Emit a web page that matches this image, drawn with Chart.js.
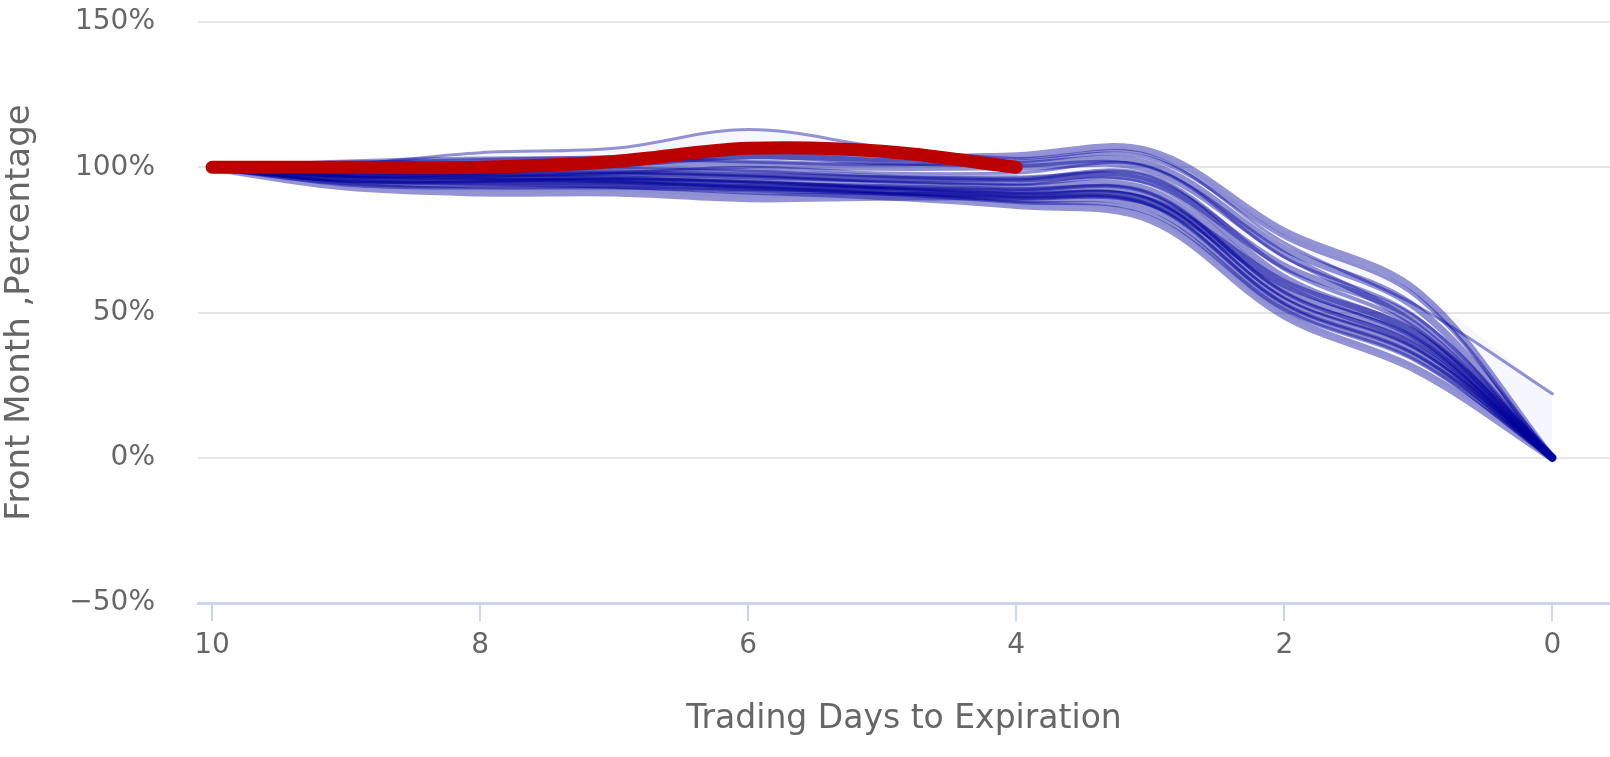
<!DOCTYPE html>
<html>
<head>
<meta charset="utf-8">
<script src="https://cdn.jsdelivr.net/npm/chart.js@4.4.1/dist/chart.umd.min.js"></script>
<style>
  html, body { margin: 0; padding: 0; background: #fff; overflow: hidden; }
  #wrap { width: 1610px; height: 757px; }
  canvas { display: block; }
</style>
</head>
<body>
<div id="wrap"><canvas id="chart" width="1610" height="757"></canvas></div>
<script>
// trading days to expiration (x) and tick labels
const days = [10, 9, 8, 7, 6, 5, 4, 3, 2, 1, 0];
const xTicks = [10, 8, 6, 4, 2, 0];
const yTicks = [-50, 0, 50, 100, 150];

// current front month (only up to day 4)
const current = [100, 100, 100, 102, 106.5, 105.5, 100];

// past expirations, % of start value
const history = [
    [100, 101, 105, 106.5, 113, 107, 103, 104, 74, 52, 22],
    [100, 101, 102, 103, 104, 103, 104, 105.5, 78, 57, 0],
    [100, 102, 103, 103, 102, 101, 102, 103, 76, 55, 0],
    [100, 99, 100, 101, 104, 102, 101, 101, 72, 51, 0],
    [100, 98, 97, 98, 100, 98, 98, 100, 69, 48, 0],
    [100, 101, 101, 102, 101, 100, 100, 99, 70, 45, 0],
    [100, 97, 98, 100, 99, 97, 96, 97, 65, 44, 0],
    [100, 99, 99, 99, 98, 96, 95, 96, 62, 42, 0],
    [100, 98, 98, 98, 97, 95, 94, 94, 60, 40, 0],
    [100, 96, 96, 97, 96, 94, 93, 92, 58, 40, 0],
    [100, 97, 97, 96, 95, 93, 92, 91, 57, 38, 0],
    [100, 98, 97, 96, 94, 93, 92, 90, 56, 38, 0],
    [100, 95, 95, 96, 95, 93, 91, 89, 55, 37, 0],
    [100, 96, 95, 95, 94, 92, 90, 88, 54, 36, 0],
    [100, 94, 93, 93, 92, 91, 90, 87, 53, 35, 0],
    [100, 95, 94, 94, 93, 92, 89, 86, 52, 34, 0],
    [100, 93.5, 91.5, 91.5, 89.5, 90, 90, 88, 60, 42, 0],
    [100, 97, 96, 95, 93, 91, 88, 84, 51, 33, 0],
    [100, 96, 95, 94, 92, 90, 87, 82, 49, 30, 0],
    [100, 99, 98, 98, 97, 96, 96, 95, 66, 47, 0]
];
const widths = [3, 7, 4, 7, 3, 7, 4, 7, 3, 7, 4, 7, 3, 7, 4, 7, 9, 4, 8, 7];

const toPoints = vals => vals.map((v, i) => ({ x: days[i], y: v }));
const upper = days.map((d, i) => Math.max(...history.map(s => s[i])));
const lower = days.map((d, i) => Math.min(...history.map(s => s[i])));

const datasets = [];
datasets.push({
    data: toPoints(upper), borderWidth: 0, pointRadius: 0, fill: false,
    tension: 0.35, order: 3
});
datasets.push({
    data: toPoints(lower), borderWidth: 0, pointRadius: 0, fill: '-1',
    backgroundColor: 'rgba(70, 70, 230, 0.05)', tension: 0.35, order: 3
});
history.forEach((s, i) => {
    datasets.push({
        data: toPoints(s),
        borderColor: 'rgba(0, 0, 156, 0.42)',
        borderWidth: widths[i],
        borderCapStyle: 'round',
        pointRadius: 0,
        tension: 0.35,
        fill: false,
        order: 2
    });
});
datasets.push({
    data: toPoints(current),
    borderColor: '#bb0000',
    borderWidth: 13,
    borderCapStyle: 'round',
    pointRadius: 0,
    tension: 0.35,
    fill: false,
    order: 1
});

new Chart(document.getElementById('chart'), {
    type: 'line',
    data: { datasets: datasets },
    options: {
        responsive: false,
        animation: false,
        layout: { padding: { top: 22, right: 0, left: 0, bottom: 0 } },
        plugins: { legend: { display: false }, tooltip: { enabled: false } },
        scales: {
            x: {
                type: 'linear',
                reverse: true,
                min: -0.43,
                max: 10.105,
                afterBuildTicks: axis => { axis.ticks = xTicks.map(v => ({ value: v })); },
                afterFit: axis => { axis.height = 154; },
                grid: {
                    drawOnChartArea: false, drawTicks: true, tickLength: 18,
                    color: '#ccd6eb', lineWidth: 2
                },
                border: { color: '#ccd6eb', width: 3 },
                ticks: {
                    color: '#666666', padding: 8,
                    font: { family: 'DejaVu Sans', size: 28 }
                },
                title: {
                    display: true, text: 'Trading Days to Expiration', color: '#666666',
                    font: { family: 'DejaVu Sans', size: 33 },
                    padding: { top: 20, bottom: 18 }
                }
            },
            y: {
                min: -50,
                max: 150,
                afterBuildTicks: axis => { axis.ticks = yTicks.map(v => ({ value: v })); },
                afterFit: axis => { axis.width = 198; },
                grid: {
                    color: '#e6e6e6', lineWidth: 2,
                    drawTicks: true, tickLength: 40, tickColor: 'rgba(0,0,0,0)'
                },
                border: { display: false },
                ticks: {
                    color: '#666666', padding: 3,
                    font: { family: 'DejaVu Sans', size: 28 },
                    callback: v => (v < 0 ? '\u2212' + Math.abs(v) : v) + '%'
                },
                title: {
                    display: true, text: 'Front Month ,Percentage', color: '#666666',
                    font: { family: 'DejaVu Sans', size: 34 },
                    padding: { top: 0, bottom: 0 }
                }
            }
        }
    }
});
</script>
</body>
</html>
